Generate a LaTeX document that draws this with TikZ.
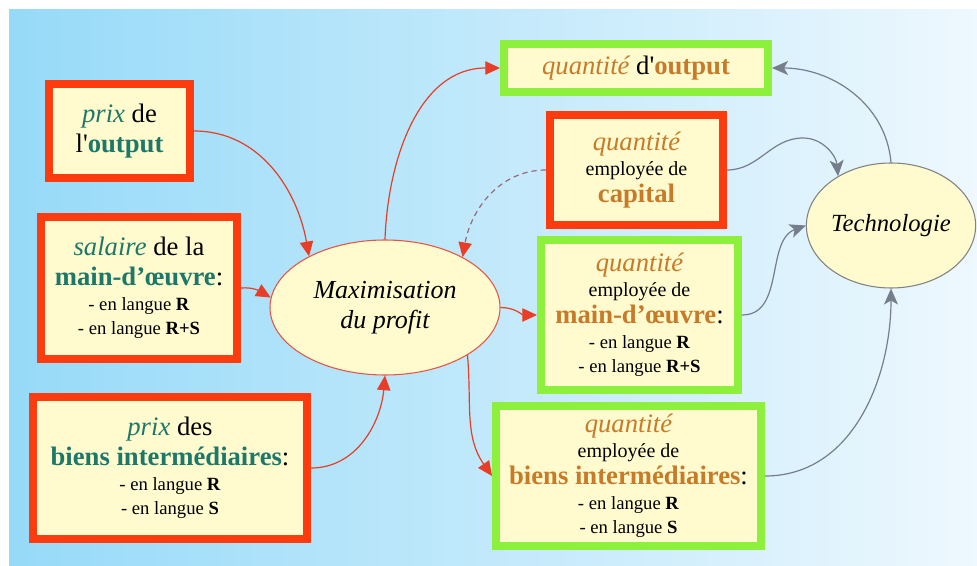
\documentclass[tikz,border=0pt]{standalone}
\usepackage{fontspec}
\setmainfont{Liberation Serif}
\usetikzlibrary{arrows.meta,shapes.geometric}
\definecolor{bgL}{RGB}{150,218,248}
\definecolor{bgM}{RGB}{200,236,252}
\definecolor{bgR}{RGB}{238,248,254}
\definecolor{redc}{RGB}{252,60,14}
\definecolor{greenc}{RGB}{140,240,60}
\definecolor{fillc}{RGB}{255,251,206}
\definecolor{tealc}{RGB}{28,120,105}
\definecolor{orgc}{RGB}{200,122,40}
\definecolor{arrred}{RGB}{232,62,40}
\definecolor{arrgrey}{RGB}{118,126,140}
\definecolor{dashc}{RGB}{150,105,125}
\definecolor{maxb}{RGB}{228,85,70}
\definecolor{techb}{RGB}{130,130,130}
\newcommand\tealt[1]{\textcolor{tealc}{#1}}
\newcommand\orgt[1]{\textcolor{orgc}{#1}}
\newcommand\smf{\fontsize{15}{18}\selectfont}
\newcommand\lgf{\fontsize{14}{16}\selectfont}
\tikzset{
  boxbase/.style={fill=fillc, line width=6pt, inner sep=0pt, align=center, font=\fontsize{20}{20}\selectfont},
  redbox/.style={boxbase, draw=redc},
  greenbox/.style={boxbase, draw=greenc},
  redarr/.style={draw=arrred, line width=0.9pt, -{Triangle[length=11pt,width=10pt]}},
  dasharr/.style={draw=dashc, line width=0.9pt, dash pattern=on 4pt off 3pt, -{Triangle[length=11pt,width=10pt,color=arrred]}},
  greyarr/.style={draw=arrgrey, line width=0.9pt, -{Stealth[length=12pt,width=10.5pt,inset=3pt]}},
  ellbase/.style={ellipse, fill=fillc, inner sep=0pt, align=center, line width=0.8pt}
}
\begin{document}
\begin{tikzpicture}[x=0.75pt,y=-0.75pt]
\useasboundingbox (0,0) rectangle (977,566);
\fill[white] (0,0) rectangle (977,566);
\shade[left color=bgL, middle color=bgM, right color=bgR] (9,10) rectangle (977,566);

% left boxes
\node[redbox, minimum width=105.75pt, minimum height=70.5pt] (b1) at (119.5,131)
  {\textit{\tealt{prix}} de\\[2.5pt] l\textquotesingle\textbf{\tealt{output}}};
\node[redbox, minimum width=147pt, minimum height=106.5pt] (b2) at (139,288)
  {\textit{\tealt{salaire}} de la\\[2.5pt] \textbf{\tealt{main-d’œuvre}}:\\[-1pt]
   {\lgf - en langue \textbf{R}}\\[-2pt] {\lgf - en langue \textbf{R+S}}};
\node[redbox, minimum width=205.5pt, minimum height=106.5pt] (b3) at (170,468)
  {\textit{\tealt{prix}} des\\[2.5pt] \textbf{\tealt{biens intermédiaires}}:\\[-1pt]
   {\lgf - en langue \textbf{R}}\\[-2pt] {\lgf - en langue \textbf{S}}};

% central ellipse
\node[ellbase, draw=maxb, minimum width=172.5pt, minimum height=101.25pt,
  font=\fontsize{19.5}{23}\selectfont\itshape] (m) at (385,307.5) {Maximisation\\du profit};

% right boxes
\node[greenbox, minimum width=198pt, minimum height=36pt] (b5) at (636,68)
  {\textit{\orgt{quantité}} d\textquotesingle\textbf{\orgt{output}}};
\node[redbox, minimum width=129.75pt, minimum height=82.5pt] (b6) at (636.5,170)
  {\textit{\orgt{quantité}}\\[-1pt] {\smf employée de}\\[0pt] \textbf{\orgt{capital}}};
\node[greenbox, minimum width=147.75pt, minimum height=112.5pt] (b7) at (639.5,315)
  {\textit{\orgt{quantité}}\\[-1pt] {\smf employée de}\\[0pt] \textbf{\orgt{main-d’œuvre}}:\\[-1pt]
   {\lgf - en langue \textbf{R}}\\[-2pt] {\lgf - en langue \textbf{R+S}}};
\node[greenbox, minimum width=198.75pt, minimum height=105pt] (b8) at (628.5,476)
  {\textit{\orgt{quantité}}\\[-1pt] {\smf employée de}\\[0pt] \textbf{\orgt{biens intermédiaires}}:\\[-1pt]
   {\lgf - en langue \textbf{R}}\\[-2pt] {\lgf - en langue \textbf{S}}};

% technologie
\node[ellbase, draw=techb, minimum width=111pt, minimum height=93.75pt,
  font=\fontsize{18.5}{22}\selectfont\itshape] (t) at (891,225.5) {Technologie};

\coordinate (hump) at (803,138);

% red arrows
\draw[redarr] (b1.east) to[out=0,in=100] (m.146);
\draw[redarr] (b2.east) to[out=5,in=150] (m.175);
\draw[redarr] (b3.east) to[out=0,in=-95] (m.south);
\draw[redarr] (m.north) to[out=88,in=180] (b5.west);
\draw[dasharr] (b6.west) to[out=180,in=80] (m.33);
\draw[redarr] (m.east) to[out=0,in=180] (b7.west);
\draw[redarr] (m.-30) to[out=-85,in=125] (b8.west);

% grey arrows
\draw[greyarr] (b6.east) to[out=0,in=180] (hump) to[out=0,in=95] (t.137);
\draw[greyarr] (t.north) to[out=95,in=0] (b5.east);
\draw[greyarr] (b7.east) to[out=0,in=200] (t.west);
\draw[greyarr] (b8.east) to[out=0,in=-90] (t.south);
\end{tikzpicture}
\end{document}
